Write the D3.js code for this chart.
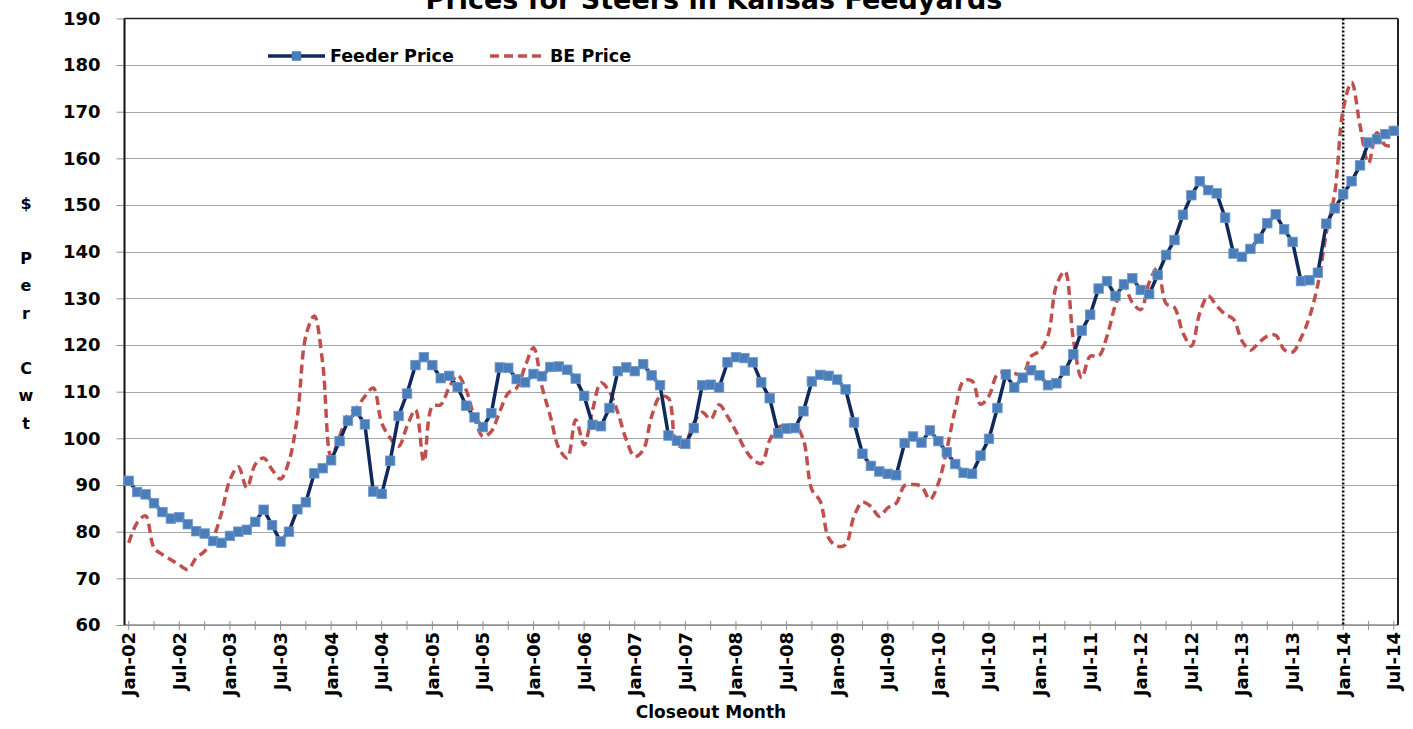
<!DOCTYPE html>
<html lang="en">
  <head>
    <meta charset="utf-8" />
    <title>Prices for Steers in Kansas Feedyards</title>
    <script src="https://d3js.org/d3.v7.min.js"></script>
    <style>
      body {
        margin: 0;
        background: #fff;
      }
      text {
        font-family: "DejaVu Sans", sans-serif;
        font-weight: bold;
        fill: #000;
      }
    </style>
  </head>
  <body>
    <script>
      // monthly closeouts, Jan-02 .. Jul-14
      var feederPrice = [
        90.9, 88.5, 88.0, 86.1, 84.2, 82.8, 83.1, 81.6, 80.1, 79.6, 78.0, 77.6,
        79.1, 80.0, 80.4, 82.1, 84.7, 81.4, 77.9, 80.0, 84.8, 86.3, 92.5, 93.6,
        95.3, 99.4, 103.8, 105.8, 103.0, 88.6, 88.1, 95.2, 104.8, 109.6, 115.7, 117.4,
        115.7, 112.9, 113.4, 111.0, 107.0, 104.5, 102.4, 105.4, 115.2, 115.1, 112.7, 112.0,
        113.8, 113.3, 115.3, 115.4, 114.7, 112.8, 109.1, 102.9, 102.6, 106.5, 114.4, 115.2,
        114.4, 115.9, 113.5, 111.4, 100.6, 99.5, 98.8, 102.2, 111.4, 111.5, 110.9, 116.3,
        117.4, 117.2, 116.3, 112.0, 108.6, 101.1, 102.1, 102.2, 105.8, 112.2, 113.6, 113.4,
        112.6, 110.5, 103.4, 96.7, 94.1, 92.9, 92.4, 92.1, 99.0, 100.4, 99.1, 101.7,
        99.4, 97.0, 94.5, 92.6, 92.4, 96.3, 99.9, 106.5, 113.7, 110.9, 113.0, 114.6,
        113.5, 111.4, 111.8, 114.5, 118.0, 123.1, 126.5, 132.1, 133.7, 130.5, 133.0, 134.3,
        131.8, 130.9, 135.0, 139.3, 142.5, 147.9, 152.1, 155.1, 153.2, 152.5, 147.3, 139.6,
        138.9, 140.6, 142.8, 146.1, 148.0, 144.8, 142.1, 133.7, 133.9, 135.5, 146.0, 149.3,
        152.3, 155.1, 158.5, 163.4, 164.1, 165.2, 165.9
      ];
      var bePrice = [
        77.6, 81.9, 83.4, 76.5, 75.1, 74.0, 72.9, 71.9, 74.4, 75.8, 78.6, 84.0,
        91.1, 93.9, 89.4, 94.4, 95.8, 93.3, 91.3, 95.1, 104.7, 121.9, 126.2, 116.1,
        96.1, 100.4, 105.0, 106.5, 109.0, 110.8, 103.3, 100.1, 98.3, 102.6, 106.1, 95.0,
        106.9, 107.2, 110.9, 113.5, 110.4, 104.4, 100.4, 101.5, 105.8, 109.7, 110.8, 115.4,
        119.4, 111.1, 104.7, 97.9, 95.8, 104.0, 98.6, 106.1, 111.9, 110.0, 105.5, 99.7,
        96.1, 97.5, 104.7, 108.9, 108.6, 98.4, 99.1, 103.3, 105.6, 104.1, 107.2, 104.7,
        101.5, 97.9, 95.5, 94.6, 99.6, 102.4, 102.7, 102.8, 99.7, 89.0, 86.5, 78.6,
        76.9, 77.2, 83.3, 86.3, 85.4, 83.3, 85.1, 86.1, 89.9, 90.1, 89.7, 86.9,
        90.4, 97.6, 106.2, 112.3, 112.3, 107.3, 109.1, 113.7, 114.2, 113.9, 113.7, 117.6,
        118.7, 122.0, 132.8, 135.8, 121.3, 113.0, 117.6, 117.6, 121.9, 128.6, 132.6, 129.1,
        127.6, 133.4, 136.6, 128.9, 128.0, 122.6, 119.8, 126.9, 130.5, 128.4, 126.6, 125.5,
        120.9, 118.9, 120.5, 121.9, 122.1, 119.0, 118.5, 121.5, 126.0, 133.0, 144.0, 152.5,
        170.5, 176.3, 167.0, 159.0, 165.5, 162.8, 162.8
      ];
      // one label every 6 months
      var tickLabels = [
        "Jan-02", "Jul-02", "Jan-03", "Jul-03", "Jan-04", "Jul-04", "Jan-05",
        "Jul-05", "Jan-06", "Jul-06", "Jan-07", "Jul-07", "Jan-08", "Jul-08",
        "Jan-09", "Jul-09", "Jan-10", "Jul-10", "Jan-11", "Jul-11", "Jan-12",
        "Jul-12", "Jan-13", "Jul-13", "Jan-14", "Jul-14"
      ];
      var yTicks = [60, 70, 80, 90, 100, 110, 120, 130, 140, 150, 160, 170, 180, 190];
      var yTitle = ["$", "", "P", "e", "r", "", "C", "w", "t"];
      var markerMonth = "Jan-14";

      var width = 1413,
        height = 729;
      var plotLeft = 124.5,
        plotRight = 1398,
        plotTop = 18.4,
        plotBottom = 625;

      var svg = d3
        .select("body")
        .append("svg")
        .attr("width", width)
        .attr("height", height);

      var months = d3.range(feederPrice.length);
      var x = d3
        .scalePoint()
        .domain(months)
        .range([plotLeft, plotRight])
        .padding(0.5);
      var y = d3.scaleLinear().domain([60, 190]).range([plotBottom, plotTop]);

      // gridlines
      svg
        .append("g")
        .selectAll("line")
        .data(yTicks)
        .enter()
        .append("line")
        .attr("x1", plotLeft)
        .attr("x2", plotRight)
        .attr("y1", function (d) {
          return Math.round(y(d)) + 0.5;
        })
        .attr("y2", function (d) {
          return Math.round(y(d)) + 0.5;
        })
        .style("stroke", "#a6a6a6")
        .style("stroke-width", 1);

      // y axis
      var yAxis = d3
        .axisLeft(y)
        .tickValues(yTicks)
        .tickSize(8)
        .tickPadding(16);
      var gy = svg
        .append("g")
        .attr("transform", "translate(" + plotLeft + ",0)")
        .call(yAxis);
      gy.select(".domain").remove();
      gy.selectAll(".tick line").style("stroke", "#909090");
      gy.selectAll(".tick text")
        .style("font-family", "DejaVu Sans")
        .style("font-size", "18px")
        .style("font-weight", "bold")
        .style("fill", "#000");

      // x axis: ticks every 3 months, labels every 6
      svg
        .append("g")
        .selectAll("line")
        .data(
          months.filter(function (i) {
            return i % 3 === 0;
          })
        )
        .enter()
        .append("line")
        .attr("x1", function (i) {
          return x(i);
        })
        .attr("x2", function (i) {
          return x(i);
        })
        .attr("y1", plotBottom - 4)
        .attr("y2", plotBottom + 5)
        .style("stroke", "#909090")
        .style("stroke-width", 1);

      svg
        .append("g")
        .selectAll("text")
        .data(tickLabels)
        .enter()
        .append("text")
        .attr("transform", function (d, i) {
          return (
            "translate(" + x(i * 6) + "," + (plotBottom + 7) + ") rotate(-90)"
          );
        })
        .attr("dy", "0.36em")
        .style("text-anchor", "end")
        .style("font-size", "18px")
        .text(function (d) {
          return d;
        });

      // frame
      svg
        .append("line")
        .attr("x1", plotLeft)
        .attr("x2", plotRight)
        .attr("y1", plotBottom)
        .attr("y2", plotBottom)
        .style("stroke", "#8c8c8c")
        .style("stroke-width", 1.5);
      svg
        .append("line")
        .attr("x1", plotLeft)
        .attr("x2", plotRight)
        .attr("y1", plotTop)
        .attr("y2", plotTop)
        .style("stroke", "#222")
        .style("stroke-width", 1.5);
      svg
        .append("line")
        .attr("x1", plotLeft)
        .attr("x2", plotLeft)
        .attr("y1", plotTop)
        .attr("y2", plotBottom)
        .style("stroke", "#111")
        .style("stroke-width", 2);
      svg
        .append("line")
        .attr("x1", plotRight)
        .attr("x2", plotRight)
        .attr("y1", plotTop)
        .attr("y2", plotBottom)
        .style("stroke", "#222")
        .style("stroke-width", 2);

      // dotted line at Jan-14
      var markX = x(tickLabels.indexOf(markerMonth) * 6);
      svg
        .append("line")
        .attr("x1", markX)
        .attr("x2", markX)
        .attr("y1", plotTop)
        .attr("y2", plotBottom)
        .style("stroke", "#000")
        .style("stroke-width", 2.5)
        .style("stroke-dasharray", "2,2");

      var line = d3
        .line()
        .x(function (d, i) {
          return x(i);
        })
        .y(function (d) {
          return y(d);
        });

      // BE price, smoothed dashed
      svg
        .append("path")
        .datum(bePrice)
        .attr("d", line.curve(d3.curveCatmullRom.alpha(0.5)))
        .style("fill", "none")
        .style("stroke", "#c0504d")
        .style("stroke-width", 3.5)
        .style("stroke-dasharray", "9,5");

      // feeder price, straight with square markers
      svg
        .append("path")
        .datum(feederPrice)
        .attr("d", line.curve(d3.curveLinear))
        .style("fill", "none")
        .style("stroke", "#10295c")
        .style("stroke-width", 3.5);

      var ms = 9.5;
      svg
        .append("g")
        .selectAll("rect")
        .data(feederPrice)
        .enter()
        .append("rect")
        .attr("x", function (d, i) {
          return x(i) - ms / 2;
        })
        .attr("y", function (d) {
          return y(d) - ms / 2;
        })
        .attr("width", ms)
        .attr("height", ms)
        .style("fill", "#4a7ebb")
        .style("stroke", "#6f98cc")
        .style("stroke-width", 0.8);

      // legend
      var legend = svg.append("g");
      legend
        .append("line")
        .attr("x1", 268)
        .attr("x2", 325)
        .attr("y1", 56)
        .attr("y2", 56)
        .style("stroke", "#10295c")
        .style("stroke-width", 3.5);
      legend
        .append("rect")
        .attr("x", 296.5 - ms / 2)
        .attr("y", 56 - ms / 2)
        .attr("width", ms)
        .attr("height", ms)
        .style("fill", "#4a7ebb");
      legend
        .append("text")
        .attr("x", 330)
        .attr("y", 56)
        .attr("dy", "0.36em")
        .style("font-size", "17.5px")
        .text("Feeder Price");
      legend
        .append("line")
        .attr("x1", 490)
        .attr("x2", 546)
        .attr("y1", 56)
        .attr("y2", 56)
        .style("stroke", "#c0504d")
        .style("stroke-width", 3.5)
        .style("stroke-dasharray", "9,5");
      legend
        .append("text")
        .attr("x", 550)
        .attr("y", 56)
        .attr("dy", "0.36em")
        .style("font-size", "17.5px")
        .text("BE Price");

      // titles
      svg
        .append("text")
        .attr("x", 714)
        .attr("y", 9)
        .style("text-anchor", "middle")
        .style("font-size", "27px")
        .text("Prices for Steers in Kansas Feedyards");

      svg
        .append("text")
        .attr("x", 711)
        .attr("y", 712)
        .attr("dy", "0.36em")
        .style("text-anchor", "middle")
        .style("font-size", "17px")
        .text("Closeout Month");

      svg
        .append("g")
        .selectAll("text")
        .data(yTitle)
        .enter()
        .append("text")
        .attr("x", 26)
        .attr("y", function (d, i) {
          return 203 + i * 27.5;
        })
        .attr("dy", "0.36em")
        .style("text-anchor", "middle")
        .style("font-size", "16px")
        .text(function (d) {
          return d;
        });
    </script>
  </body>
</html>
